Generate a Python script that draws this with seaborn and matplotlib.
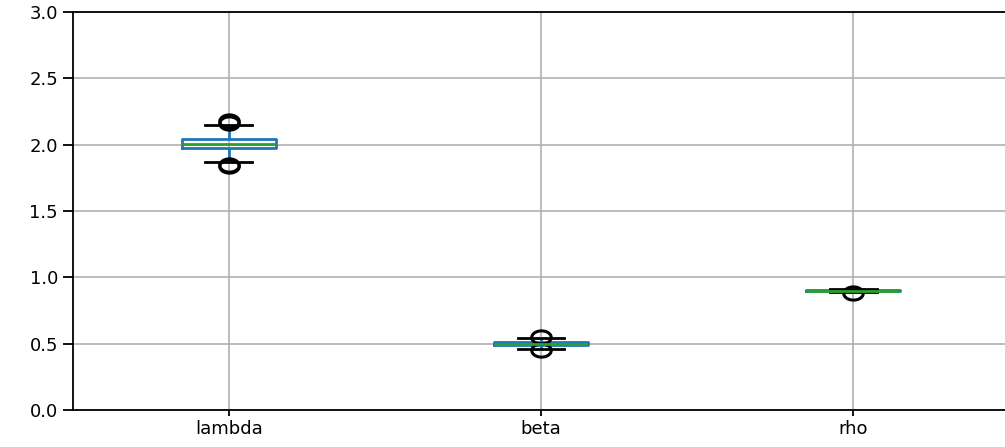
import matplotlib
matplotlib.use('Agg')
import matplotlib.pyplot as plt
import numpy as np
import pandas as pd
import seaborn as sns
from matplotlib.path import Path

# Valores (quartis, bigodes e outliers de cada parâmetro)
params = ['lambda', 'beta', 'rho']
lambda_vals = [1.840, 1.850, 1.867, 1.972, 1.972, 1.972, 2.003,
               2.045, 2.045, 2.045, 2.148, 2.165, 2.180]
beta_vals = [0.450, 0.458, 0.488, 0.488, 0.488, 0.498,
             0.512, 0.512, 0.512, 0.543, 0.552]
rho_vals = [0.881, 0.889, 0.897, 0.897, 0.897, 0.900,
            0.903, 0.903, 0.903, 0.911]
y_ticks = [0.0, 0.5, 1.0, 1.5, 2.0, 2.5, 3.0]

df = pd.DataFrame({
    'param': ['lambda'] * len(lambda_vals) + ['beta'] * len(beta_vals) + ['rho'] * len(rho_vals),
    'value': lambda_vals + beta_vals + rho_vals,
})

plt.rcParams['font.family'] = ['DejaVu Sans']

# marcador elíptico (o original parece esticado na horizontal)
t = np.linspace(0, 2 * np.pi, 60)
ellipse = Path(np.column_stack([np.cos(t), 0.68 * np.sin(t)]), closed=True)

fig = plt.figure(figsize=(10.05, 4.47), dpi=100)
ax = fig.add_axes([72.5 / 1005, 37 / 447, 937 / 1005, 398 / 447])

sns.boxplot(data=df, x='param', y='value', order=params, ax=ax,
            width=0.3, fill=False, color='#1f77b4', linewidth=2,
            whis=1.5,
            boxprops={'color': '#1f77b4', 'linewidth': 2},
            whiskerprops={'color': '#1f77b4', 'linewidth': 2},
            capprops={'color': 'black', 'linewidth': 2},
            medianprops={'color': '#2ca02c', 'linewidth': 2},
            flierprops={'marker': ellipse, 'markersize': 14, 'markerfacecolor': 'none',
                        'markeredgecolor': 'black', 'markeredgewidth': 2.2})

ax.set_xlim(-0.5, 2.5)
ax.set_ylim(0, 3)
ax.set_yticks(y_ticks)
ax.set_xlabel('')
ax.set_ylabel('')
ax.grid(True, color='#b0b0b0', linewidth=1.2)
ax.set_axisbelow(True)
for s in ax.spines.values():
    s.set_linewidth(1.3)
ax.tick_params(axis='y', length=7, width=1.3, labelsize=13)
ax.tick_params(axis='x', length=4, width=1.3, labelsize=13)

fig.savefig('out.png', dpi=100)
